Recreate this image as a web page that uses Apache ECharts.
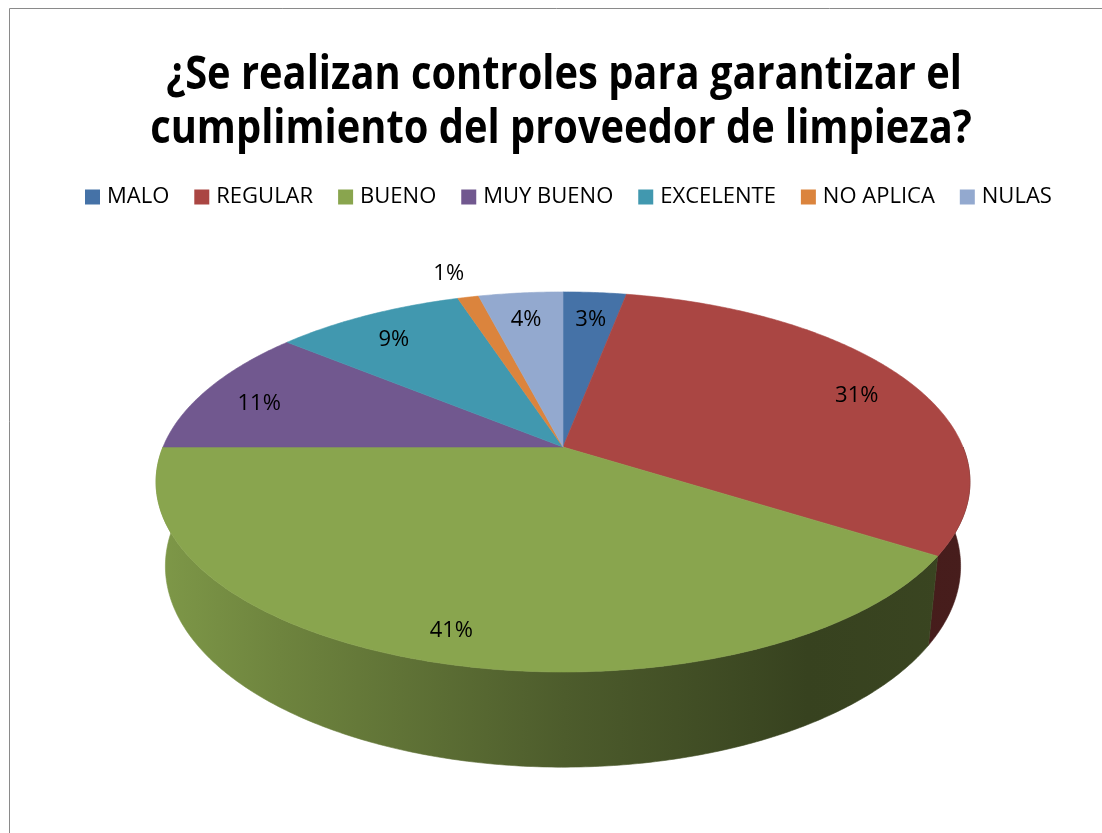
<!DOCTYPE html>
<html>
<head>
<meta charset="utf-8">
<script src="https://cdn.jsdelivr.net/npm/echarts@6/dist/echarts.min.js"></script>
<style>
  html, body { margin: 0; padding: 0; background: #ffffff; }
  #chart { width: 1102px; height: 833px; }
</style>
</head>
<body>
<div id="chart"></div>
<script>
// Survey answers (percent of responses)
const categories = ['MALO', 'REGULAR', 'BUENO', 'MUY BUENO', 'EXCELENTE', 'NO APLICA', 'NULAS'];
const values = [3, 31, 41, 11, 9, 1, 4];
const colors = ['#4572A7', '#AA4643', '#89A54E', '#71588F', '#4198AF', '#DB843D', '#93A9CF'];
const titleLines = ['¿Se realizan controles para garantizar el', 'cumplimiento del proveedor de limpieza?'];

const total = values.reduce((s, v) => s + v, 0);
const starts = values.map((v, i) => values.slice(0, i).reduce((s, x) => s + x, 0));

// Camera for the tilted 3D disc
const CX = 563, CY = 447;          // screen position of the disc centre
const SIN_T = 0.459, COS_T = Math.sqrt(1 - SIN_T * SIN_T);
const DIST = 4.83;                 // camera distance in disc radii
const FOCAL = 400 * DIST;          // pixels per radius at the centre depth
const THICK = 0.239;               // disc thickness in radii

function project(x, z, y) {
  const d = DIST - (y * SIN_T + z * COS_T);
  return [CX + FOCAL * x / d, CY - FOCAL * (y * COS_T - z * SIN_T) / d];
}
// angle measured clockwise from the back (12 o'clock)
function ringPoint(theta, r, y) {
  return project(r * Math.sin(theta), -r * Math.cos(theta), y);
}

function shade(hex, f) {
  const n = parseInt(hex.slice(1), 16);
  const c = [(n >> 16) & 255, (n >> 8) & 255, n & 255].map(v => Math.round(v * f));
  return 'rgb(' + c.join(',') + ')';
}

function fitFont(text, weight, size, family, target) {
  const ctx = document.createElement('canvas').getContext('2d');
  ctx.font = weight + ' ' + size + 'px ' + family;
  return size * target / ctx.measureText(text).width;
}

const FONT = '"Open Sans", "Noto Sans", sans-serif';
const LABEL_R = 0.85;
const OUTER_R = 1.25;

function renderItem(params, api) {
  const start = api.value(0), val = api.value(1);
  const base = api.visual('color');
  const t0 = start / total * Math.PI * 2;
  const t1 = (start + val) / total * Math.PI * 2;
  const children = [];

  // visible front wall
  const w0 = Math.max(t0, Math.PI / 2), w1 = Math.min(t1, Math.PI * 1.5);
  if (w1 > w0) {
    const steps = Math.max(4, Math.ceil((w1 - w0) / 0.01));
    const topArc = [], botArc = [];
    for (let k = 0; k <= steps; k++) {
      const t = w0 + (w1 - w0) * k / steps;
      topArc.push(ringPoint(t, 1, 0));
      botArc.push(ringPoint(t, 1, -THICK));
    }
    const grad = new echarts.graphic.LinearGradient(158, 0, 970, 0, [
      { offset: 0, color: shade(base, 0.92) },
      { offset: 0.15, color: shade(base, 0.8) },
      { offset: 0.5, color: shade(base, 0.56) },
      { offset: 0.8, color: shade(base, 0.4) },
      { offset: 1, color: shade(base, 0.42) }
    ], true);
    children.push({
      type: 'polygon', z2: 1,
      shape: { points: topArc.concat(botArc.reverse()) },
      style: { fill: grad, stroke: grad, lineWidth: 0.6 }
    });
  }

  // top face
  const steps = Math.max(4, Math.ceil((t1 - t0) / 0.01));
  const pts = [project(0, 0, 0)];
  for (let k = 0; k <= steps; k++) {
    pts.push(ringPoint(t0 + (t1 - t0) * k / steps, 1, 0));
  }
  children.push({
    type: 'polygon', z2: 10,
    shape: { points: pts },
    style: { fill: base, stroke: base, lineWidth: 0.6 }
  });

  // percentage label
  const pct = Math.round(val / total * 100);
  const mid = (t0 + t1) / 2;
  const lp = ringPoint(mid, pct < 2 ? OUTER_R : LABEL_R, 0);
  children.push({
    type: 'text', z2: 20,
    x: lp[0], y: lp[1] + 7,
    style: {
      text: pct + '%', fill: '#000000',
      font: '22px ' + FONT,
      align: 'center', verticalAlign: 'middle'
    }
  });

  return { type: 'group', children };
}

const titleSize = (fitFont(titleLines[0], 'bold', 40, FONT, 789) +
                   fitFont(titleLines[1], 'bold', 40, FONT, 829)) / 2;
const titleCenters = [[564, 76], [561, 130]];

const chart = echarts.init(document.getElementById('chart'), null, { renderer: 'canvas' });
chart.setOption({
  animation: false,
  backgroundColor: '#ffffff',
  color: colors,
  legend: {
    left: 85, top: 186,
    icon: 'rect',
    itemWidth: 15, itemHeight: 15, itemGap: 25,
    padding: 0,
    textStyle: { fontFamily: FONT, fontSize: 22, color: '#000000', padding: [0, 0, 0, 2] },
    data: categories
  },
  graphic: [{
    type: 'rect', silent: true,
    shape: { x: 9.5, y: 8.5, width: 1200, height: 1000 },
    style: { fill: 'none', stroke: '#8a8a8a', lineWidth: 1 }
  }].concat(titleLines.map((t, i) => ({
    type: 'text', silent: true,
    x: titleCenters[i][0], y: titleCenters[i][1],
    scaleY: 1.18,
    style: {
      text: t, fill: '#000000',
      font: 'bold ' + titleSize.toFixed(2) + 'px ' + FONT,
      align: 'center', verticalAlign: 'middle'
    }
  }))),
  series: categories.map((name, i) => ({
    type: 'custom',
    name: name,
    coordinateSystem: 'none',
    renderItem: renderItem,
    itemStyle: { color: colors[i] },
    data: [[starts[i], values[i]]]
  }))
});
</script>
</body>
</html>
